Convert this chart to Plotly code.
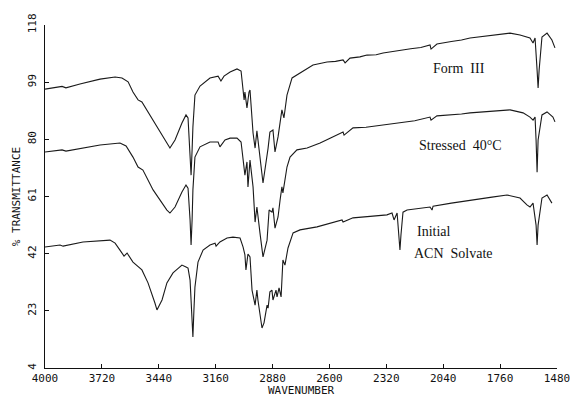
import plotly.graph_objects as go

# Wavenumber ticks (cm-1) and transmittance ticks (%)
x_ticks = [4000, 3720, 3440, 3160, 2880, 2600, 2320, 2040, 1760, 1480]
y_ticks = [4, 23, 42, 61, 80, 99, 118]

# Form III
form3_wn = [4000, 3951, 3916, 3897, 3828, 3729, 3655, 3621, 3591, 3567, 3542, 3523,
            3483, 3434, 3400, 3385, 3360, 3326, 3306, 3296, 3286, 3281, 3276, 3272,
            3262, 3237, 3188, 3148, 3134, 3119, 3089, 3055, 3035, 3025, 3020, 3016,
            3006, 2996, 2991, 2976, 2966, 2957, 2952, 2927, 2902, 2893, 2878, 2868,
            2853, 2834, 2824, 2809, 2784, 2745, 2681, 2612, 2570, 2533, 2523, 2499,
            2450, 2415, 2370, 2336, 2300, 2253, 2200, 2150, 2105, 2100, 2071, 2000,
            1950, 1908, 1850, 1800, 1750, 1711, 1662, 1613, 1598, 1588, 1578, 1573,
            1568, 1554, 1529, 1505, 1490]
form3_t = [96.7, 97.1, 97.6, 97.1, 98.4, 100.0, 100.7, 100.4, 99.1, 95.7, 93.1, 92.4,
           88.1, 82.4, 78.8, 77.1, 79.8, 85.4, 88.1, 87.1, 76.5, 68.1, 76.5, 84.1,
           94.7, 97.7, 100.4, 101.0, 99.4, 101.0, 102.4, 103.4, 102.7, 97.1, 93.1, 95.7,
           90.4, 95.7, 96.4, 82.1, 77.1, 82.8, 79.8, 65.5, 77.1, 82.4, 83.1, 75.8,
           80.8, 89.8, 87.1, 94.7, 100.4, 102.0, 104.7, 105.7, 105.9, 106.4, 105.4, 107.0,
           107.4, 108.0, 108.1, 108.7, 109.1, 109.7, 110.1, 110.5, 111.4, 110.0, 111.7, 112.5,
           113.0, 113.7, 114.2, 114.5, 115.0, 115.3, 114.7, 113.7, 112.0, 113.7, 103.0, 97.1,
           103.0, 114.0, 115.3, 113.0, 110.4]

# Stressed 40 °C
stressed_wn = [4000, 3951, 3916, 3897, 3729, 3631, 3601, 3567, 3542, 3518, 3468, 3400,
               3385, 3360, 3326, 3306, 3296, 3286, 3281, 3276, 3272, 3262, 3237, 3188,
               3148, 3139, 3114, 3089, 3055, 3035, 3025, 3016, 3006, 3001, 2991, 2976,
               2966, 2957, 2942, 2927, 2907, 2897, 2883, 2878, 2868, 2853, 2843, 2834,
               2829, 2809, 2794, 2760, 2710, 2646, 2597, 2533, 2528, 2484, 2420, 2370,
               2317, 2250, 2180, 2105, 2100, 2071, 2000, 1950, 1908, 1820, 1760, 1711,
               1647, 1613, 1598, 1588, 1583, 1578, 1573, 1554, 1529, 1500, 1490]
stressed_t = [75.8, 76.1, 76.5, 76.1, 78.1, 78.8, 77.8, 74.1, 70.8, 69.8, 63.2, 56.5,
              55.5, 57.5, 62.5, 64.8, 63.8, 53.2, 44.9, 53.2, 63.2, 74.1, 77.5, 79.1,
              79.1, 77.5, 79.8, 80.4, 80.4, 79.1, 72.1, 68.1, 72.5, 64.2, 73.1, 64.2,
              52.5, 57.5, 48.9, 40.9, 46.5, 56.5, 55.8, 57.2, 50.5, 54.2, 59.8, 64.2,
              62.2, 70.8, 74.1, 76.5, 77.1, 78.8, 80.4, 82.4, 81.4, 83.8, 84.0, 84.5,
              84.8, 85.5, 86.2, 87.4, 86.4, 87.8, 88.1, 88.4, 88.8, 89.2, 89.5, 89.8,
              88.8, 87.4, 86.4, 87.4, 79.8, 69.1, 79.8, 88.1, 89.1, 87.4, 85.8]

# Initial ACN solvate
initial_wn = [4000, 3926, 3911, 3813, 3680, 3655, 3631, 3611, 3596, 3567, 3523, 3493,
              3459, 3449, 3424, 3400, 3370, 3326, 3306, 3296, 3286, 3281, 3272, 3267,
              3262, 3247, 3222, 3188, 3163, 3158, 3139, 3104, 3075, 3040, 3025, 3016,
              3011, 3001, 2991, 2981, 2966, 2957, 2952, 2932, 2922, 2907, 2902, 2893,
              2883, 2878, 2863, 2858, 2848, 2838, 2829, 2819, 2804, 2779, 2745, 2661,
              2597, 2538, 2533, 2484, 2400, 2317, 2292, 2282, 2267, 2258, 2253, 2248,
              2238, 2218, 2160, 2105, 2095, 2090, 2000, 1908, 1800, 1726, 1662, 1628,
              1613, 1598, 1583, 1578, 1573, 1554, 1529, 1505]
initial_t = [44.2, 44.9, 44.5, 45.9, 46.5, 45.5, 43.2, 41.2, 42.2, 39.2, 36.6, 32.3,
             25.6, 23.3, 26.6, 32.3, 35.6, 38.2, 37.6, 37.2, 33.2, 26.6, 14.3, 23.3,
             30.9, 39.2, 43.2, 44.9, 45.5, 44.5, 45.9, 47.2, 47.5, 47.2, 44.2, 41.6,
             36.6, 41.9, 40.9, 29.9, 24.9, 29.9, 26.6, 17.3, 19.0, 24.9, 23.9, 29.3,
             29.9, 26.6, 29.9, 27.6, 30.6, 27.6, 39.9, 38.2, 43.9, 48.9, 49.9, 50.9,
             52.2, 53.2, 52.5, 53.9, 54.4, 54.9, 55.5, 53.2, 55.5, 48.2, 43.2, 48.2,
             55.8, 56.5, 57.0, 57.5, 56.5, 57.8, 58.8, 59.8, 60.8, 61.5, 60.5, 58.2,
             57.5, 58.8, 51.5, 44.9, 51.5, 60.5, 61.5, 58.8]

line_style = dict(color="#1a1a1a", width=1.1)
fig = go.Figure()
for name, wn, t in [("Form III", form3_wn, form3_t),
                    ("Stressed 40°C", stressed_wn, stressed_t),
                    ("Initial ACN Solvate", initial_wn, initial_t)]:
    fig.add_trace(go.Scatter(x=wn, y=t, mode="lines", name=name,
                             line=line_style, showlegend=False))

plot_font = dict(family="DejaVu Sans Mono", size=11, color="#111")
label_font = dict(family="Liberation Serif", size=14, color="#111")

fig.update_layout(
    width=580, height=396,
    margin=dict(l=45, r=23, t=25, b=28),
    paper_bgcolor="white", plot_bgcolor="white",
    font=plot_font,
    xaxis=dict(range=[4000, 1480], tickvals=x_ticks, ticktext=[str(v) for v in x_ticks],
               showline=True, linecolor="#111", linewidth=1, showgrid=False, zeroline=False,
               ticks="inside", ticklen=4, tickcolor="#111", automargin=False),
    yaxis=dict(range=[4, 118], tickvals=y_ticks, ticktext=[str(v) for v in y_ticks],
               showline=True, linecolor="#111", linewidth=1, showgrid=False, zeroline=False,
               ticks="inside", ticklen=4, tickcolor="#111", tickangle=-90,
               ticklabelstandoff=4,
               title=dict(text="% TRANSMITTANCE", standoff=2, font=plot_font),
               automargin=False),
    annotations=[
        # x-axis title placed just under the tick labels
        dict(text="WAVENUMBER", x=0.5, y=-0.066, xref="paper", yref="paper",
             yanchor="middle", showarrow=False, font=plot_font),
        dict(text="Form  III", x=1962, y=103.4, xref="x", yref="y",
             yanchor="middle", showarrow=False, font=label_font),
        dict(text="Stressed  40°C", x=1957, y=77.8, xref="x", yref="y",
             yanchor="middle", showarrow=False, font=label_font),
        dict(text="Initial", x=2179, y=49.5, xref="x", yref="y",
             xanchor="left", yanchor="middle", showarrow=False, font=label_font),
        dict(text="ACN  Solvate", x=2194, y=41.9, xref="x", yref="y",
             xanchor="left", yanchor="middle", showarrow=False, font=label_font),
    ],
)

fig.write_html("out.html")
